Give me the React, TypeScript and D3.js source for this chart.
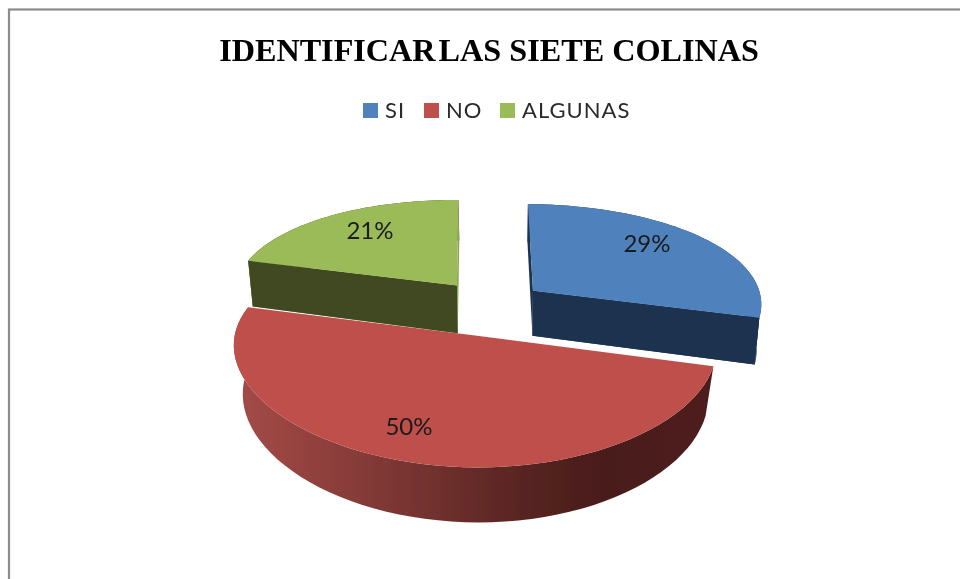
import React from "react";
import * as d3 from "d3";

const categories = ["SI", "NO", "ALGUNAS"];
const values = [29, 50, 21];
const labels = ["29%", "50%", "21%"];
const colors = ["#4f81bd", "#be4f4c", "#9bbb59"];
const wallColors = ["#1f3350", "#be4f4c", "#3f4a22"];
const explode = [[0.252, 0.43], [0, 0], [-0.079, 0.478]];
const widthScale = [0.985, 1, 0.965];
const lowShrink = [0.982, 0.965, 0.982];
const extraDepth = [0, 0, 3];
const labelPos = [[647, 244], [409, 427], [370, 231]];
const legendX = [363, 424, 500];
const wallStops: [number, string][] = [
  [0, "#a34a47"], [0.08, "#9c4643"], [0.25, "#873c39"], [0.45, "#6c2e2c"], [0.65, "#52211f"], [0.78, "#4a1d1b"], [1, "#4f1f1d"],
];

const CX = 475, CY = 335.6, RX = 240, RY = 112, KX = 0.1, KY = 0.15, SKEW = 1.65;
const project = (X: number, Y: number) => [
  CX + (RX * X) / (1 + KX * Y),
  CY + (-RY * Y + SKEW * X) / (1 + KY * Y),
];
const projectLow = (i: number) => (X: number, Y: number) => {
  const [x, y] = project(X, Y);
  return [CX + (x - CX) * lowShrink[i] + 0.5, y + 48 + extraDepth[i] - 7 * Y];
};

const pieData = d3.pie<number>().sort(null).value((d) => d)(values);
const line = d3.line();

function arcPoints(i: number) {
  const s = pieData[i];
  const [ox, oy] = explode[i];
  const steps = 60;
  return d3.range(steps + 1).map((k) => {
    const a = s.startAngle + ((s.endAngle - s.startAngle) * k) / steps;
    return [ox + widthScale[i] * Math.sin(a), oy + Math.cos(a)];
  });
}

function sliceParts(i: number) {
  const [ox, oy] = explode[i];
  const arc = arcPoints(i);
  const low = projectLow(i);
  const top = line([project(ox, oy), ...arc.map(([x, y]) => project(x, y))] as [number, number][]) + "Z";
  const first = arc[0], last = arc[arc.length - 1];
  const quad = (a: number[], b: number[]) =>
    line([project(a[0], a[1]), project(b[0], b[1]), low(b[0], b[1]), low(a[0], a[1])] as [number, number][]) + "Z";
  const startWall = quad([ox, oy], first);
  const endWall = quad([ox, oy], last);
  const outer =
    line([
      ...arc.map(([x, y]) => project(x, y)),
      ...[...arc].reverse().map(([x, y]) => low(x, y)),
    ] as [number, number][]) + "Z";
  return { top, startWall, endWall, outer };
}

export default function App() {
  const parts = values.map((_, i) => sliceParts(i));
  const renderSlice = (i: number) => {
    const p = parts[i];
    return (
      <g key={categories[i]}>
        {i === 1 ? (
          <path d={p.outer} fill="url(#redWall)" />
        ) : (
          <>
            <path d={p.outer} fill={wallColors[i]} />
            <path d={p.startWall} fill={i === 2 ? "#88a54c" : wallColors[i]} />
            <path d={p.endWall} fill={i === 2 ? "#88a54c" : wallColors[i]} />
            <path d={i === 0 ? p.endWall : p.startWall} fill={wallColors[i]} />
          </>
        )}
        <path d={p.top} fill={colors[i]} />
      </g>
    );
  };
  return (
    <svg
      width={960}
      height={579}
      viewBox="0 0 960 579"
      style={{ position: "absolute", left: 0, top: 0, background: "#fff" }}
    >
      <defs>
        <linearGradient id="redWall" gradientUnits="userSpaceOnUse" x1={235} y1={0} x2={713} y2={0}>
          {wallStops.map(([o, c]) => (
            <stop key={o} offset={o} stopColor={c} />
          ))}
        </linearGradient>
        <filter id="soft" x="-5%" y="-5%" width="110%" height="110%">
          <feGaussianBlur stdDeviation="0.55" />
        </filter>
      </defs>
      <g filter="url(#soft)">
        <rect x={9} y={9.5} width={960} height={600} fill="none" stroke="#8c8c8c" strokeWidth={2.2} />
        {renderSlice(2)}
        {renderSlice(0)}
        {renderSlice(1)}
        <text
          x={489}
          y={61}
          textAnchor="middle"
          fontFamily="'Liberation Serif'"
          fontWeight="bold"
          fontSize={32.2}
          fill="#000"
        >
          <tspan>IDENTIFICAR </tspan>
          <tspan dx={-5}>LAS SIETE COLINAS</tspan>
        </text>
        {categories.map((c, i) => (
          <g key={c}>
            <rect x={legendX[i]} y={103} width={15} height={15} fill={colors[i]} />
            <text x={legendX[i] + 22} y={118} fontFamily="Lato" fontSize={22} letterSpacing={1} fill="#2a2a2a">
              {c}
            </text>
          </g>
        ))}
        {labels.map((l, i) => (
          <text key={l} x={labelPos[i][0]} y={labelPos[i][1] + 8} textAnchor="middle" fontFamily="Lato" fontSize={24} fill="#1a1a1a">
            {l}
          </text>
        ))}
      </g>
    </svg>
  );
}
